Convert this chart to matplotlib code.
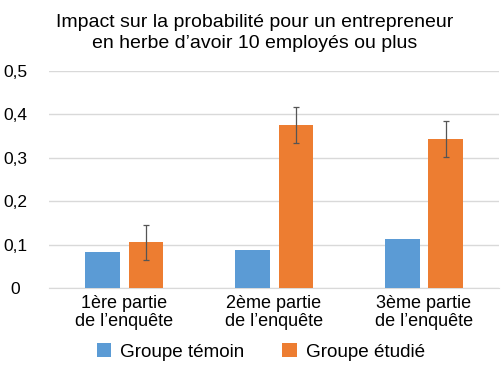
import matplotlib
matplotlib.use("Agg")
import matplotlib.pyplot as plt
import numpy as np

plt.rcParams['font.family'] = ['Liberation Sans', 'DejaVu Sans']

categories = ["1ère partie\nde l\u2019enquête", "2ème partie\nde l\u2019enquête", "3ème partie\nde l\u2019enquête"]
temoin = [0.083, 0.088, 0.113]
etudie = [0.106, 0.376, 0.343]
err_low = [0.041, 0.042, 0.041]
err_high = [0.040, 0.041, 0.042]
yticks = [0, 0.1, 0.2, 0.3, 0.4, 0.5]
ytick_labels = ["0", "0,1", "0,2", "0,3", "0,4", "0,5"]

fig = plt.figure(figsize=(5.01, 3.68), dpi=100)
ax = fig.add_axes([49/501, 1-288/368, 450/501, 217/368])

x = np.arange(len(categories))
w = 0.227
gap = 0.06
ax.bar(x - (w + gap)/2, temoin, w, color='#5B9BD5', label='Groupe témoin', zorder=3)
ax.bar(x + (w + gap)/2, etudie, w, color='#ED7D31', label='Groupe étudié', zorder=3,
       yerr=[err_low, err_high], error_kw=dict(ecolor='#555555', elinewidth=0.9, capsize=2, capthick=0.9))

ax.set_xlim(-0.5, 2.5)
ax.set_ylim(0, 0.5)
ax.set_yticks(yticks)
ax.set_yticklabels(ytick_labels, fontsize=12.5, ha='center')
ax.set_xticks(x)
ax.set_xticklabels(categories, fontsize=13, linespacing=1.05)
ax.tick_params(length=0)
ax.tick_params(axis='x', pad=5)
ax.tick_params(axis='y', pad=24)
ax.grid(axis='y', color='#D9D9D9', linewidth=1, zorder=0)
for s in ['top', 'right', 'left']:
    ax.spines[s].set_visible(False)
ax.spines['bottom'].set_color('#D9D9D9')

fig.text(255/501, 1-33/368, "Impact sur la probabilité pour un entrepreneur\nen herbe d\u2019avoir 10 employés ou plus",
         ha='center', va='center', fontsize=14, linespacing=1.3)

fig.legend(loc='center', bbox_to_anchor=(261/501, 1-352/368), ncol=2, frameon=False,
           fontsize=13.6, handlelength=0.75, handleheight=0.75, columnspacing=2.0, handletextpad=0.5)

fig.savefig("out.png", dpi=100)
